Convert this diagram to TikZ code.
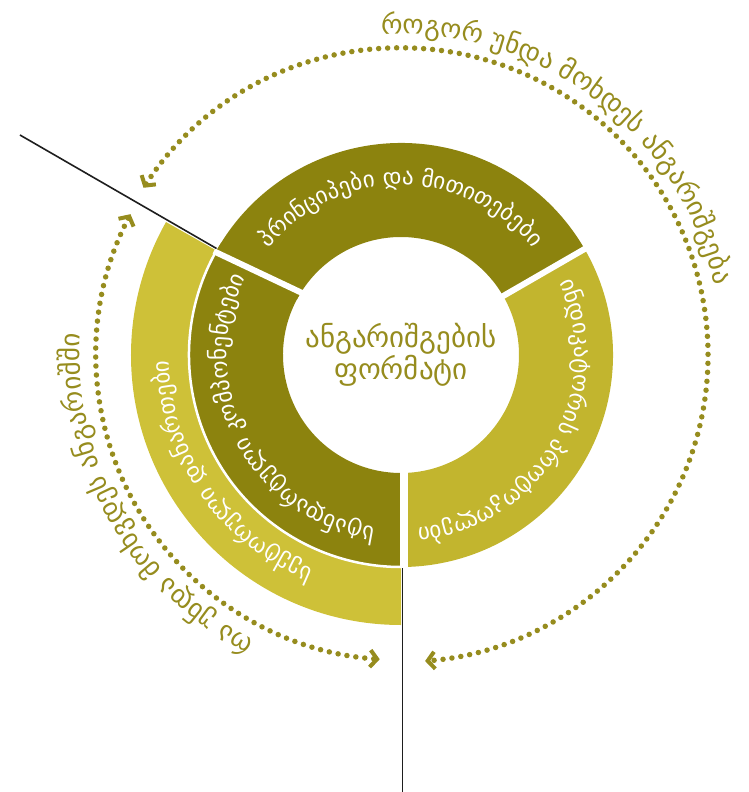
\documentclass[tikz,border=0pt]{standalone}
\usepackage{fontspec}
\newfontfamily\gfont{DejaVu Sans}
\usetikzlibrary{decorations.text,arrows.meta}
\definecolor{darkol}{RGB}{140,131,14}
\definecolor{rightol}{RGB}{194,181,46}
\definecolor{outerol}{RGB}{206,193,56}
\definecolor{txtol}{RGB}{150,140,30}
\definecolor{lineblk}{RGB}{30,30,30}
\tikzset{
  dotarc/.style={draw=txtol, line width=5.5pt, line cap=round, dash pattern=on 0pt off 9pt},
  chev/.tip={Straight Barb[length=7pt,width=17pt,line width=4pt]},
  radline/.style={draw=lineblk, line width=1.6pt},
  gapline/.style={draw=white, line width=6pt},
}
% #1 centre angle, #2 half span, #3 radius, #4 format, #5 text
\newcommand{\arctext}[5]{%
  \path[decorate, decoration={text along path, text align=center, text={|#4|#5}}]
    ({#1+#2}:#3) arc[start angle={#1+#2}, end angle={#1-#2}, radius=#3];}
\newcommand{\bigfmt}{\gfont\fontsize{27}{27}\selectfont\color{txtol}}
\newcommand{\segfmt}{\gfont\fontsize{23}{23}\selectfont\color{white}}
\begin{document}
\begin{tikzpicture}[x=1pt,y=1pt]
\useasboundingbox (-401,-437) rectangle (348,355);
% outer left segment
\fill[outerol] (150.5:212) arc[start angle=150.5,end angle=270,radius=212]
  -- (0,-270) arc[start angle=270,end angle=150.5,radius=270] -- cycle;
% top segment
\fill[darkol] (30:118) arc[start angle=30,end angle=152,radius=118]
  -- (152:212) arc[start angle=152,end angle=30,radius=212] -- cycle;
% right segment
\fill[rightol] (-90:118) arc[start angle=-90,end angle=30,radius=118]
  -- (30:212) arc[start angle=30,end angle=-90,radius=212] -- cycle;
% left inner segment
\fill[darkol] (148:118) arc[start angle=148,end angle=270,radius=118]
  -- (270:212) arc[start angle=270,end angle=148,radius=212] -- cycle;
% gaps
\draw[gapline] (30:110) -- (30:222);
\draw[gapline] (147.5:110) -- (151:214);
\fill[white] (-1,-108) rectangle (7,-213);
\draw[white, line width=2.5pt] (150.5:212) arc[start angle=150.5,end angle=270,radius=212];
% radial black lines
\coordinate (l1a) at (150:213);
\coordinate (l1b) at (150:440);
\coordinate (l2a) at (1.5,-213);
\coordinate (l2b) at (1.5,-437);
\draw[radline] (l1a) -- (l1b);
\draw[radline] (l2a) -- (l2b);
% dotted arcs
\draw[dotarc, {chev}-{chev}] (147:307) arc[start angle=147,end angle=-85.5,radius=307];
\draw[dotarc, {chev}-{chev}] (152.5:305) arc[start angle=152.5,end angle=266,radius=305];
% centre text
\node[text=txtol, font=\gfont\fontsize{29}{32}\selectfont, align=center] (centre) at (0,0) {ანგარიშგების\\ფორმატი};
% arc texts
\arctext{53}{85}{321}{\bigfmt}{როგორ უნდა მოხდეს ანგარიშგება}
\arctext{209.5}{85}{321}{\bigfmt}{რა უნდა მოხვდეს ანგარიშში}
% segment texts
\arctext{90}{85}{170}{\segfmt}{პრინციპები და მითითებები}
\arctext{-30}{85}{174}{\segfmt}{ინდიკატორის პროტოკოლები}
\arctext{207.5}{85}{174}{\segfmt}{სტანდარტული კომპონენტები}
\arctext{214.5}{85}{232}{\segfmt}{სექტორული დანართები}
\end{tikzpicture}
\end{document}
